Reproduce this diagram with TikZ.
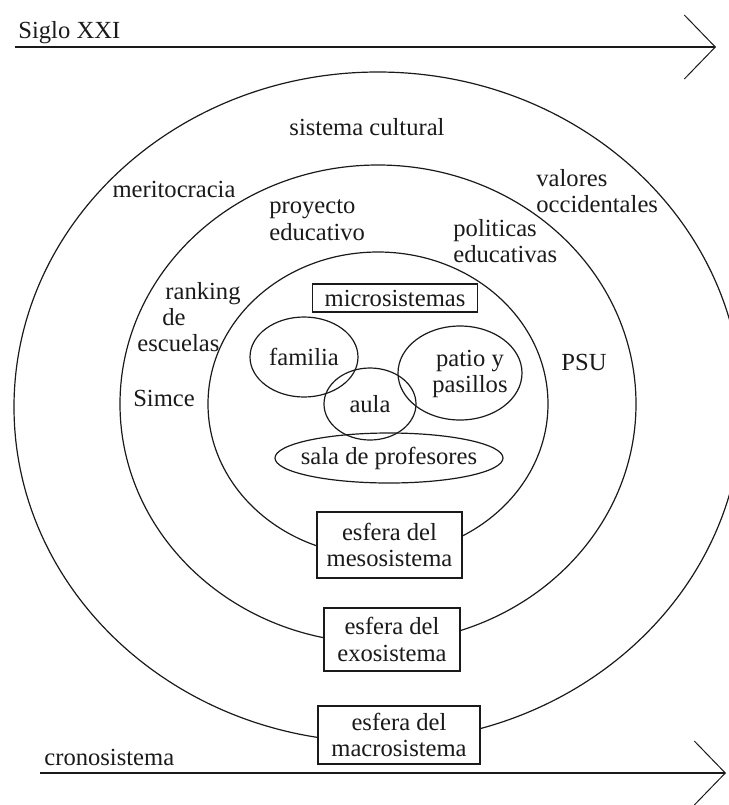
\documentclass[tikz,border=0pt]{standalone}
\usepackage{fontspec}
\setmainfont{Liberation Serif}
\usepackage{xcolor}
\definecolor{ecoink}{HTML}{1A1A1A}
\usepackage{tikz}
\usetikzlibrary{arrows.meta,positioning,shapes.geometric}
\tikzset{
  ecotext/.style={font=\fontsize{12.3}{13.2}\selectfont,text=ecoink},
  ecolabel/.style={ecotext,inner sep=0pt,align=left},
  ecobox/.style={ecotext,draw=ecoink,line width=0.8pt,fill=white,inner sep=0pt,align=center},
  ecoring/.style={draw=ecoink,line width=0.6pt},
  ecotime/.style={draw=ecoink,line width=0.9pt,-{Straight Barb[length=15.5pt,width=32pt,line width=0.5pt]}},
}
\begin{document}
\begin{tikzpicture}[x=0.5pt,y=-0.5pt]
\useasboundingbox (0,0) rectangle (729,805);
% time arrows
\coordinate (sigloS) at (15,47);
\coordinate (sigloE) at (716,47);
\coordinate (cronoS) at (40,773);
\coordinate (cronoE) at (726,773);
\draw[ecotime] (sigloS) -- (sigloE);
\draw[ecotime] (cronoS) -- (cronoE);
\node[ecolabel,anchor=base west] (siglo) at (18,38) {Siglo XXI};
\node[ecolabel,anchor=base west] (crono) at (44,765) {cronosistema};

% spheres
\coordinate (macroC) at (378,407);
\coordinate (exoC) at (378,404);
\coordinate (mesoC) at (378,404);
\draw[ecoring] (macroC) ellipse [x radius=364, y radius=335];
\draw[ecoring] (exoC) ellipse [x radius=258, y radius=239];
\draw[ecoring] (mesoC) ellipse [x radius=170, y radius=152];

% microsystems
\coordinate (familiaC) at (304,357);
\coordinate (aulaC) at (370,404);
\coordinate (patioC) at (460,373);
\coordinate (salaC) at (389,458);
\draw[ecoring] (familiaC) ellipse [x radius=54, y radius=40];
\draw[ecoring] (aulaC) ellipse [x radius=46, y radius=36];
\draw[ecoring] (patioC) ellipse [x radius=62, y radius=47];
\draw[ecoring] (salaC) ellipse [x radius=114, y radius=25];
\node[ecolabel] (familia) at (familiaC) {familia};
\node[ecolabel] (aula) at (aulaC) {aula};
\node[ecolabel,align=center] (patio) at (470,374) {patio y\\pasillos};
\node[ecolabel] (sala) at (salaC) {sala de profesores};

% labels
\node[ecolabel] (cultural) at (367,127) {sistema cultural};
\node[ecolabel] (merito) at (174,189) {meritocracia};
\node[ecolabel,anchor=west] (proyecto) at (269,220) {proyecto\\educativo};
\node[ecolabel,anchor=west] (politicas) at (453,241) {politicas\\educativas};
\node[ecolabel,anchor=west] (valores) at (536,191) {valores\\occidentales};
\node[ecolabel,anchor=west] (ranking) at (137,317) {\hspace*{14pt}ranking\\\hspace*{12.5pt}de\\escuelas};
\node[ecolabel] (simce) at (164,398) {Simce};
\node[ecolabel] (psu) at (584,362) {PSU};

% boxes
\node[ecobox,minimum width=82.5pt,minimum height=14pt] (micro) at (395,298) {microsistemas};
\node[ecobox,minimum width=72.5pt,minimum height=33pt] (meso) at (389.5,545) {esfera del\\mesosistema};
\node[ecobox,minimum width=68pt,minimum height=31.5pt] (exo) at (392,639.5) {esfera del\\exosistema};
\node[ecobox,minimum width=81pt,minimum height=29pt] (macro) at (399,735) {esfera del\\macrosistema};
\end{tikzpicture}
\end{document}
